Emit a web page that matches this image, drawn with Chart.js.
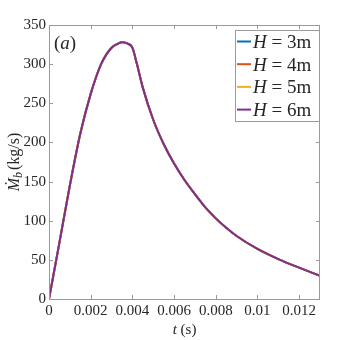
<!DOCTYPE html>
<html>
<head>
  <title>Mass flow rate</title>
  <script src="https://cdn.jsdelivr.net/npm/chart.js"></script>
  <style>
    html, body { margin: 0; padding: 0; background: #fff; }
    #wrap { width: 354px; height: 340px; }
  </style>
</head>
<body>
  <div id="wrap"><canvas id="chart" width="354" height="340"></canvas></div>
  <script>
    // values
    const tVals = [0, 0.0005, 0.001, 0.0015, 0.002, 0.0025, 0.003, 0.0033, 0.0035, 0.0038, 0.004,
      0.0042, 0.0045, 0.005, 0.0055, 0.006, 0.0065, 0.007, 0.0075, 0.008, 0.0085, 0.009, 0.01, 0.011, 0.012, 0.013];
    const mdotH3 = [0, 72, 145, 211, 262, 300, 321, 326, 328, 326, 321,
      302, 270, 229, 198, 173, 152, 134, 117, 103, 91, 80.5, 64, 51, 40, 29.5];
    const mdotH4 = mdotH3.slice();
    const mdotH5 = mdotH3.slice();
    const mdotH6 = mdotH3.slice();
    const seriesLabels = ['3m', '4m', '5m', '6m'];
    const seriesColors = ['#0072BD', '#D95319', '#EDB120', '#7E2F8E'];
    const xTicks = [0, 0.002, 0.004, 0.006, 0.008, 0.01, 0.012];
    const yTicks = [0, 50, 100, 150, 200, 250, 300, 350];

    const serif = '"Liberation Serif", "Times New Roman", serif';
    const axisGray = '#9a9a9a';
    const textCol = '#262626';

    function toPts(vals) {
      return vals.map((v, i) => ({ x: tVals[i], y: v }));
    }
    const allSeries = [mdotH3, mdotH4, mdotH5, mdotH6];

    // box, inward ticks, axis titles, panel label and legend
    const decor = {
      id: 'decor',
      afterDraw(chart) {
        const ctx = chart.ctx;
        const a = chart.chartArea;
        const xs = chart.scales.x, ys = chart.scales.y;
        ctx.save();
        ctx.strokeStyle = axisGray;
        ctx.lineWidth = 1;
        ctx.strokeRect(a.left + 0.5, a.top + 0.5, a.right - a.left - 1, a.bottom - a.top);
        ctx.beginPath();
        xTicks.forEach(v => {
          const px = Math.round(xs.getPixelForValue(v)) + 0.5;
          ctx.moveTo(px, a.bottom); ctx.lineTo(px, a.bottom - 4);
          ctx.moveTo(px, a.top); ctx.lineTo(px, a.top + 4);
        });
        yTicks.forEach(v => {
          const py = Math.round(ys.getPixelForValue(v)) + 0.5;
          ctx.moveTo(a.left, py); ctx.lineTo(a.left + 4, py);
          ctx.moveTo(a.right, py); ctx.lineTo(a.right - 4, py);
        });
        ctx.stroke();

        ctx.fillStyle = textCol;
        ctx.textBaseline = 'alphabetic';
        // x title
        const cx = (a.left + a.right) / 2;
        ctx.font = 'italic 15px ' + serif;
        const wt = ctx.measureText('t').width;
        ctx.font = '15px ' + serif;
        const ws = ctx.measureText(' (s)').width;
        let x0 = cx - (wt + ws) / 2;
        ctx.font = 'italic 15px ' + serif;
        ctx.fillText('t', x0, 334);
        ctx.font = '15px ' + serif;
        ctx.fillText(' (s)', x0 + wt, 334);

        // y title, rotated
        ctx.save();
        ctx.translate(19, (a.top + a.bottom) / 2);
        ctx.rotate(-Math.PI / 2);
        ctx.font = 'italic 16px ' + serif;
        const wm = ctx.measureText('\u1E40').width;
        ctx.font = 'italic 12px ' + serif;
        const wb = ctx.measureText('b').width;
        ctx.font = '16px ' + serif;
        const wu = ctx.measureText('(kg/s)').width;
        const tot = wm + wb + 2 + wu;
        let px = -tot / 2;
        ctx.font = 'italic 16px ' + serif;
        ctx.fillText('\u1E40', px, 0);
        px += wm;
        ctx.font = 'italic 12px ' + serif;
        ctx.fillText('b', px, 3);
        px += wb + 2;
        ctx.font = '16px ' + serif;
        ctx.fillText('(kg/s)', px, 0);
        ctx.restore();

        // panel label
        ctx.font = '19px ' + serif;
        ctx.fillText('(', 54, 49);
        let lx = 54 + ctx.measureText('(').width;
        ctx.font = 'italic 19px ' + serif;
        ctx.fillText('a', lx, 49);
        lx += ctx.measureText('a').width;
        ctx.font = '19px ' + serif;
        ctx.fillText(')', lx, 49);

        // legend
        const bx = 235, by = 30, bw = a.right - 1 - bx, bh = 91;
        ctx.fillStyle = '#fff';
        ctx.fillRect(bx, by, bw, bh);
        ctx.strokeStyle = axisGray;
        ctx.lineWidth = 1;
        ctx.strokeRect(bx + 0.5, by + 0.5, bw, bh);
        chart.data.datasets.forEach((ds, i) => {
          const yc = 41.5 + i * 22.7;
          ctx.strokeStyle = ds.borderColor;
          ctx.lineWidth = 2;
          ctx.beginPath();
          ctx.moveTo(237, yc); ctx.lineTo(251, yc);
          ctx.stroke();
          ctx.fillStyle = textCol;
          ctx.font = 'italic 19px ' + serif;
          ctx.fillText('H', 253, yc + 6.5);
          const wh = ctx.measureText('H').width;
          ctx.font = '19px ' + serif;
          ctx.fillText(' = ' + seriesLabels[i], 253 + wh, yc + 6.5);
        });
        ctx.restore();
      }
    };

    new Chart(document.getElementById('chart'), {
      type: 'line',
      data: {
        datasets: allSeries.map((s, i) => ({
          label: 'H = ' + seriesLabels[i],
          data: toPts(s),
          borderColor: seriesColors[i],
          borderWidth: 2,
          pointRadius: 0,
          fill: false,
          order: allSeries.length - i,
          cubicInterpolationMode: 'monotone'
        }))
      },
      options: {
        responsive: false,
        animation: false,
        layout: { padding: { top: 25, right: 34, left: 0, bottom: 0 } },
        plugins: { legend: { display: false }, tooltip: { enabled: false } },
        scales: {
          x: {
            type: 'linear',
            min: 0, max: 0.013,
            grid: { display: false, drawTicks: false },
            border: { display: false },
            afterBuildTicks: s => { s.ticks = xTicks.map(v => ({ value: v })); },
            afterFit: s => { s.height = 41; },
            ticks: {
              padding: 3,
              maxRotation: 0,
              color: textCol,
              font: { family: serif, size: 15 },
              callback: v => String(+v.toFixed(3))
            }
          },
          y: {
            min: 0, max: 350,
            grid: { display: false, drawTicks: false },
            border: { display: false },
            afterBuildTicks: s => { s.ticks = yTicks.map(v => ({ value: v })); },
            afterFit: s => { s.width = 49; },
            ticks: {
              padding: 3,
              color: textCol,
              font: { family: serif, size: 15 }
            }
          }
        }
      },
      plugins: [decor]
    });
  </script>
</body>
</html>
